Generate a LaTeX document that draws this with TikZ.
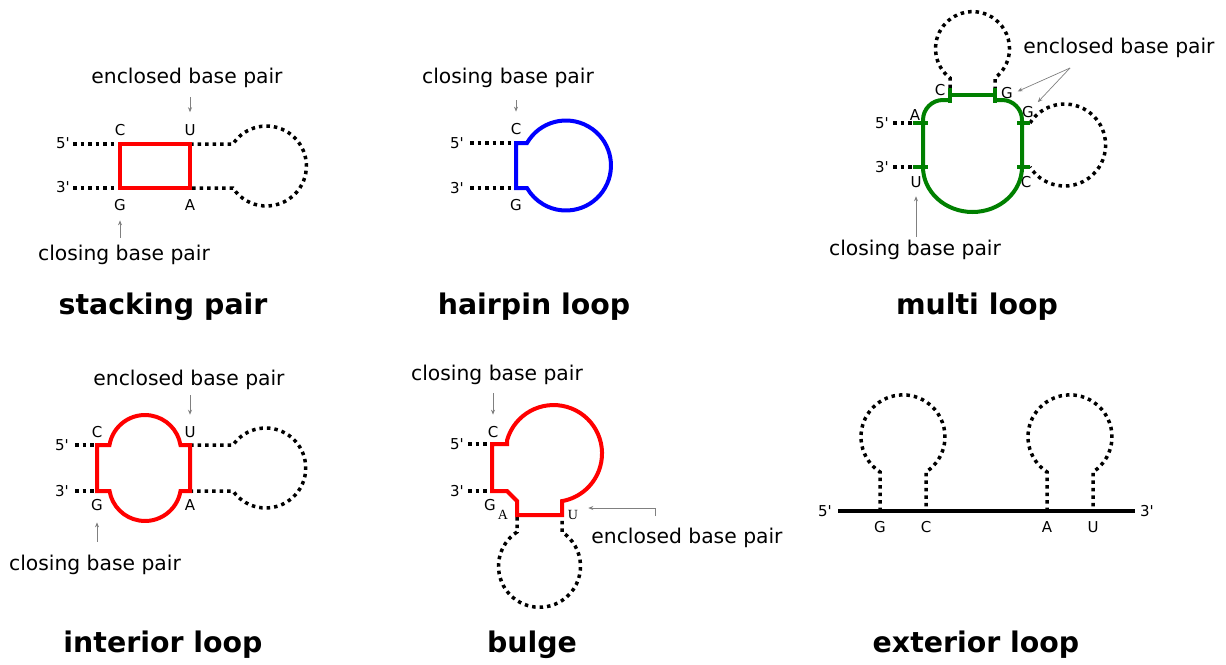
\documentclass[tikz,border=0pt]{standalone}
\usepackage{fontspec}
\setmainfont{DejaVu Sans}
\newfontfamily\smallserif{Liberation Serif}
\usetikzlibrary{arrows.meta}

\begin{document}
\begin{tikzpicture}[x=1pt,y=-1pt,
    strand/.style={line width=3.5pt,dash pattern=on 3.5pt off 4pt},
    pairline/.style={draw=#1,line width=4pt},
    base/.style={inner sep=1pt,font=\fontsize{15}{18}\selectfont},
    sbase/.style={inner sep=1pt,font=\fontsize{14}{16}\smallserif},
    note/.style={inner sep=1pt,font=\fontsize{20.3}{24}\selectfont},
    title/.style={font=\fontsize{28.4}{34}\selectfont\bfseries},
    pointer/.style={draw=gray,line width=0.7pt,-{Stealth[length=5pt,width=4pt]},shorten >=11pt}]
\useasboundingbox (0,0) rectangle (1226,664);

% stacking pair
\node[base] (p5a) at (63,143) {5\textquotesingle};
\node[base] (p3a) at (63,187) {3\textquotesingle};
\node[base] (C1) at (120,130) {C};
\node[base] (U1) at (190,130) {U};
\node[base] (G1) at (120,205) {G};
\node[base] (A1) at (190,205) {A};
\draw[strand] (73,144) -- (120,144);
\draw[strand] (73,188) -- (120,188);
\draw[strand] (190,144) -- (233,144) arc[start angle=146.6,end angle=-146.6,radius=40pt] -- (190,188);
\draw[pairline=red] (120,144) rectangle (190,188);
\node[note] (encl1) at (187,78) {enclosed base pair};
\node[note] (clos1) at (124,255) {closing base pair};
\draw[pointer,shorten <=8pt] (encl1.south -| U1) -- (U1.north);
\draw[pointer,shorten <=6pt,shorten >=8.5pt] (clos1.north -| G1) -- (G1.south);
\node[title] (t1) at (163,307) {stacking pair};

% hairpin loop
\node[base] (p5b) at (457,143) {5\textquotesingle};
\node[base] (p3b) at (457,188) {3\textquotesingle};
\node[base] (C2) at (516,129) {C};
\node[base] (G2) at (516,205) {G};
\draw[strand] (470,143) -- (516,143);
\draw[strand] (470,188) -- (516,188);
\draw[pairline=blue] (527,143) arc[start angle=150,end angle=-150,radius=45pt] -- (516,188) -- (516,143) -- cycle;
\node[note] (clos2) at (508,78) {closing base pair};
\draw[pointer,shorten <=11pt,shorten >=10.5pt] (clos2.south -| C2) -- (C2.north);
\node[title] (t2) at (534,307) {hairpin loop};

% multi loop
\node[base] (p5c) at (882,123) {5\textquotesingle};
\node[base] (p3c) at (882,167) {3\textquotesingle};
\node[base] (A3) at (915,115) {A};
\node[base] (U3) at (916,182) {U};
\node[base] (Ct3) at (940,90) {C};
\node[base] (Gt3) at (1007,93) {G};
\node[base] (Gr3) at (1028,112) {G};
\node[base] (Cr3) at (1026,182) {C};
\draw[strand] (893,123) -- (913,123);
\draw[strand] (893,167) -- (913,167);
\draw[strand] (950,88) -- (950,78) arc[start angle=232.5,end angle=-52.5,radius=37pt] -- (995,88);
\draw[strand] (1030,123) arc[start angle=147.5,end angle=-147.5,radius=41pt];
\draw[pairline=green!50!black] (950,100) -- (943,100) arc[start angle=90,end angle=180,radius=20pt]
  -- (923,167) arc[start angle=180,end angle=360,x radius=49.5pt,y radius=45pt]
  -- (1022,120) arc[start angle=0,end angle=90,radius=20pt] -- (995,100);
\draw[pairline=green!50!black] (950,95) -- (995,95);
\draw[pairline=green!50!black] (950,88) -- (950,103);
\draw[pairline=green!50!black] (995,88) -- (995,103);
\draw[pairline=green!50!black] (913,123) -- (928,123);
\draw[pairline=green!50!black] (913,167) -- (928,167);
\draw[pairline=green!50!black] (1017,123) -- (1030,123);
\draw[pairline=green!50!black] (1017,167) -- (1030,167);
\node[note] (encl3) at (1119,48) {enclosed base pair};
\node[note] (clos3) at (915,250) {closing base pair};
\coordinate (fork3) at (1070,68);
\draw[pointer,shorten >=4pt] (fork3) -- (Gt3.east);
\draw[pointer,shorten >=4pt] (fork3) -- (Gr3.north east);
\draw[pointer,shorten <=2pt,shorten >=7.5pt] (clos3.north -| U3) -- (U3.south);
\node[title] (t3) at (977,307) {multi loop};

% interior loop
\node[base] (p5d) at (62,445) {5\textquotesingle};
\node[base] (p3d) at (62,491) {3\textquotesingle};
\node[base] (C4) at (97,432) {C};
\node[base] (U4) at (190,432) {U};
\node[base] (G4) at (97,505) {G};
\node[base] (A4) at (190,505) {A};
\draw[strand] (75,445) -- (97,445);
\draw[strand] (75,491) -- (97,491);
\draw[strand] (190,445) -- (233,445) arc[start angle=144.9,end angle=-144.9,radius=40pt] -- (190,491);
\draw[pairline=red] (97,445) -- (109.5,445) arc[start angle=170.4,end angle=9.6,radius=36pt] -- (190,445)
  -- (190,491) -- (180.5,491) arc[start angle=-9.6,end angle=-170.4,radius=36pt] -- (97,491) -- cycle;
\node[note] (encl4) at (189,380) {enclosed base pair};
\node[note] (clos4) at (95,565) {closing base pair};
\draw[pointer,shorten <=4pt,shorten >=10.5pt] (encl4.south -| U4) -- (U4.north);
\draw[pointer,shorten <=12pt,shorten >=10.5pt] (clos4.north -| G4) -- (G4.south);
\node[title] (t4) at (163,645) {interior loop};

% bulge
\node[base] (p5e) at (457,444) {5\textquotesingle};
\node[base] (p3e) at (457,491) {3\textquotesingle};
\node[base] (C5) at (493,432) {C};
\node[base] (G5) at (490,505) {G};
\node[sbase] (A5) at (503,515) {A};
\node[sbase] (U5) at (573,515) {U};
\draw[strand] (468,444) -- (492,444);
\draw[strand] (468,491) -- (492,491);
\draw[strand] (517,517) -- (517,532) arc[start angle=123.3,end angle=416.7,radius=41pt] -- (562,517);
\draw[pairline=red] (492,444) -- (507.1,444) -- (507.1,440.1) arc[start angle=164,end angle=-80,radius=48.4pt]
  -- (562,515) -- (517,515) -- (517,501) -- (507,491) -- (492,491) -- cycle;
\node[note] (clos5) at (497,375) {closing base pair};
\node[note] (encl5) at (687,538) {enclosed base pair};
\coordinate (bend5) at (655,516);
\draw[pointer,shorten <=7pt,shorten >=10.5pt] (clos5.south -| C5) -- (C5.north);
\draw[pointer,shorten >=9pt] (bend5) |- ([yshift=7pt]U5.east);
\node[title] (t5) at (532,645) {bulge};

% exterior loop
\node[base] (p5f) at (825,511) {5\textquotesingle};
\node[base] (p3f) at (1147,511) {3\textquotesingle};
\node[base] (G6) at (880,527) {G};
\node[base] (C6) at (926,527) {C};
\node[base] (A6) at (1047,527) {A};
\node[base] (U6) at (1093,527) {U};
\draw[strand] (880,511) -- (880,472) arc[start angle=236.8,end angle=-56.8,radius=42pt] -- (926,511);
\draw[strand] (1047,511) -- (1047,472) arc[start angle=236.8,end angle=-56.8,radius=42pt] -- (1093,511);
\draw[line width=4.5pt] (838,511) -- (1135,511);
\node[title] (t6) at (976,645) {exterior loop};
\end{tikzpicture}
\end{document}
